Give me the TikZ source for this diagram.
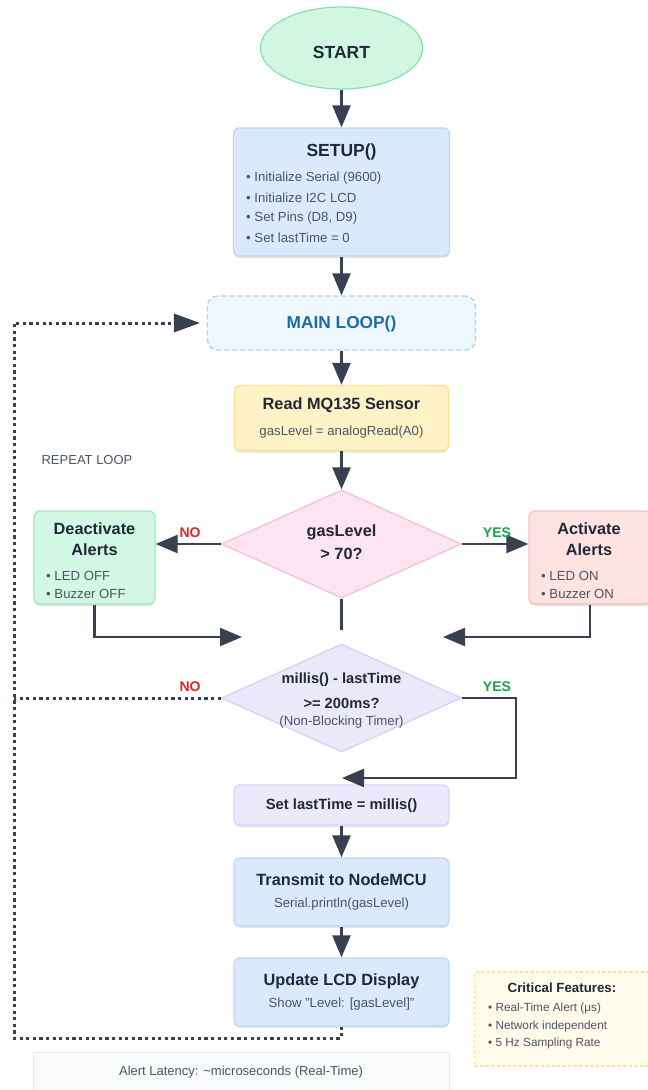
\documentclass[tikz,border=0pt]{standalone}
\usepackage{fontspec}
\setmainfont{Liberation Sans}
\usetikzlibrary{arrows.meta,shapes.geometric,shadows}
\definecolor{arrowc}{HTML}{374151}
\definecolor{tdark}{HTML}{1F2937}
\definecolor{tgray}{HTML}{4B5563}
\definecolor{startfill}{HTML}{D1F7E2}\definecolor{startdraw}{HTML}{8EE3B0}
\definecolor{setupfill}{HTML}{DBE9FD}\definecolor{setupdraw}{HTML}{BFD7F8}
\definecolor{loopfill}{HTML}{EFF7FE}\definecolor{loopdraw}{HTML}{A5D5F5}\definecolor{looptext}{HTML}{1A6DA5}
\definecolor{readfill}{HTML}{FEF2C6}\definecolor{readdraw}{HTML}{FBDF8A}
\definecolor{donefill}{HTML}{FCE5F0}\definecolor{donedraw}{HTML}{F6C0D9}
\definecolor{deactfill}{HTML}{D2F7E4}\definecolor{deactdraw}{HTML}{A0EBC2}
\definecolor{actfill}{HTML}{FEE3E1}\definecolor{actdraw}{HTML}{F8C3BE}
\definecolor{dtwofill}{HTML}{ECE8FC}\definecolor{dtwodraw}{HTML}{D8D0F7}
\definecolor{setfill}{HTML}{EDE9FD}\definecolor{setdraw}{HTML}{DCD3F9}
\definecolor{critfill}{HTML}{FEFBEA}\definecolor{critdraw}{HTML}{FBE38C}
\definecolor{latfill}{HTML}{F9FAFB}\definecolor{latdraw}{HTML}{E5E7EB}
\definecolor{nored}{HTML}{DC2626}\definecolor{yesgreen}{HTML}{16A34A}
\tikzset{
  box/.style={draw, rounded corners=6pt, line width=1.3pt, inner sep=0pt,
    drop shadow={shadow xshift=0pt, shadow yshift=-2pt, opacity=0.10, fill=black}},
  arr/.style={line width=2.4pt, draw=arrowc, -{Triangle[length=22pt,width=18pt]}},
  plainline/.style={line width=2.4pt, draw=arrowc},
  dotline/.style={line width=3pt, draw=arrowc, dash pattern=on 3.2pt off 3.4pt},
  ttl/.style={font=\bfseries\fontsize{16.3}{19}\selectfont, text=tdark, inner sep=0pt},
  sub/.style={font=\fontsize{13.2}{15}\selectfont, text=tgray, inner sep=0pt},
  bul/.style={font=\fontsize{13.2}{15}\selectfont, text=tgray, inner sep=0pt, anchor=west},
  lblno/.style={font=\bfseries\fontsize{14}{16}\selectfont, text=nored, inner sep=0pt},
  lblyes/.style={font=\bfseries\fontsize{14}{16}\selectfont, text=yesgreen, inner sep=0pt},
}
\begin{document}
\begin{tikzpicture}[x=1pt,y=-1pt]
\useasboundingbox[fill=white] (0,0) rectangle (648,1090);

% START
\node[ellipse, draw=startdraw, fill=startfill, line width=1.3pt, minimum width=162pt, minimum height=82pt, inner sep=0pt] (start) at (341.5,48) {};
\node[font=\bfseries\fontsize{17.5}{20}\selectfont, text=tdark] (starttxt) at (341.5,52) {START};

% SETUP
\node[box, fill=setupfill, draw=setupdraw, minimum width=216pt, minimum height=128pt] (setup) at (341.5,192) {};
\node[ttl, font=\bfseries\fontsize{17.5}{20}\selectfont] (setupt) at (341.5,152) {SETUP()};
\node[bul] (s1) at (246,178) {• Initialize Serial (9600)};
\node[bul] (s2) at (246,198) {• Initialize I2C LCD};
\node[bul] (s3) at (246,218) {• Set Pins (D8, D9)};
\node[bul] (s4) at (246,238) {• Set lastTime = 0};

% MAIN LOOP
\node[draw=loopdraw, fill=loopfill, dashed, dash pattern=on 5pt off 3pt, rounded corners=10pt, line width=1.3pt, minimum width=268pt, minimum height=54pt, inner sep=0pt] (loop) at (341.5,323) {};
\node[font=\bfseries\fontsize{17.3}{20}\selectfont, text=looptext, inner sep=0pt] (loopt) at (341.5,324) {MAIN LOOP()};

% READ
\node[box, fill=readfill, draw=readdraw, minimum width=214pt, minimum height=65pt] (read) at (341.5,418) {};
\node[ttl] (readt) at (341.5,405) {Read MQ135 Sensor};
\node[sub] (reads) at (341.5,432) {gasLevel = analogRead(A0)};

% Decision 1
\node[diamond, draw=donedraw, fill=donefill, line width=1.3pt, minimum width=240pt, minimum height=108pt, inner sep=0pt, aspect=2.2] (dec1) at (341.5,544) {};
\node[ttl] (dec1a) at (341.5,532) {gasLevel};
\node[ttl] (dec1b) at (341.5,554) {> 70?};

% Deactivate
\node[box, fill=deactfill, draw=deactdraw, minimum width=121pt, minimum height=93pt] (deact) at (94.5,557.5) {};
\node[ttl] (deact1) at (94.5,529) {Deactivate};
\node[ttl] (deact2) at (94.5,550) {Alerts};
\node[bul] (deb1) at (46,576) {• LED OFF};
\node[bul] (deb2) at (46,594) {• Buzzer OFF};

% Activate
\node[box, fill=actfill, draw=actdraw, minimum width=122pt, minimum height=93pt] (act) at (590,557.5) {};
\node[ttl] (act1) at (589,529) {Activate};
\node[ttl] (act2) at (589,550) {Alerts};
\node[bul] (acb1) at (541,576) {• LED ON};
\node[bul] (acb2) at (541,594) {• Buzzer ON};

% Decision 2
\node[diamond, draw=dtwodraw, fill=dtwofill, line width=1.3pt, minimum width=240pt, minimum height=108pt, inner sep=0pt, aspect=2.2] (dec2) at (341.5,698) {};
\node[ttl, font=\bfseries\fontsize{14.7}{17}\selectfont] (dec2a) at (341.5,680) {millis() - lastTime};
\node[ttl, font=\bfseries\fontsize{14.7}{17}\selectfont] (dec2b) at (341.5,703) {>= 200ms?};
\node[sub] (dec2c) at (341.5,722) {(Non-Blocking Timer)};

% Set lastTime
\node[box, fill=setfill, draw=setdraw, minimum width=215pt, minimum height=40pt] (setl) at (341.5,805) {};
\node[ttl, font=\bfseries\fontsize{14.8}{17}\selectfont] (setlt) at (341.5,806) {Set lastTime = millis()};

% Transmit
\node[box, fill=setupfill, draw=setupdraw, minimum width=215pt, minimum height=68pt] (trans) at (341.5,892) {};
\node[ttl] (transt) at (341.5,880) {Transmit to NodeMCU};
\node[sub] (transs) at (341.5,904) {Serial.println(gasLevel)};

% Update LCD
\node[box, fill=setupfill, draw=setupdraw, minimum width=215pt, minimum height=68pt] (upd) at (341.5,992) {};
\node[ttl] (updt) at (341.5,981) {Update LCD Display};
\node[sub] (upds) at (341.5,1004) {Show "Level: [gasLevel]"};

% Critical features
\node[draw=critdraw, fill=critfill, dashed, dash pattern=on 3pt off 2.5pt, line width=1.3pt, minimum width=175pt, minimum height=94pt, inner sep=0pt] (crit) at (562,1019) {};
\node[font=\bfseries\fontsize{13.3}{15}\selectfont, text=tdark, inner sep=0pt] (critt) at (562,988) {Critical Features:};
\node[bul, font=\fontsize{11.8}{13}\selectfont] (c1) at (488,1008) {• Real-Time Alert (μs)};
\node[bul, font=\fontsize{11.8}{13}\selectfont] (c2) at (488,1026) {• Network independent};
\node[bul, font=\fontsize{11.8}{13}\selectfont] (c3) at (488,1043) {• 5 Hz Sampling Rate};

% Alert latency
\node[draw=latdraw, fill=latfill, line width=1.2pt, minimum width=416pt, minimum height=44pt, inner sep=0pt, anchor=north west] (lat) at (33,1052) {};
\node[sub, font=\fontsize{13}{15}\selectfont] (latt) at (241,1072) {Alert Latency: \textasciitilde microseconds (Real-Time)};

% REPEAT LOOP label
\node[sub, font=\fontsize{13}{15}\selectfont] (rep) at (87,460) {REPEAT LOOP};

% connectors
\draw[arr] (start.south) -- (setup.north);
\draw[arr] (setup.south) -- (loop.north);
\draw[arr] (loop.south) -- (read.north);
\draw[arr] (read.south) -- (dec1.north);
\draw[arr] (dec1.west) -- (dec1.west -| deact.east);
\draw[arr] (dec1.east) -- (dec1.east -| act.west);
\node[lblno] (no1) at (190,533) {NO};
\node[lblyes] (yes1) at (497,533) {YES};

\coordinate (mid) at (341.5,630);
\draw[plainline] (dec1.south) -- (mid);
\coordinate (joinL) at (242,637);
\coordinate (joinR) at (443,637);
\draw[arr] (deact.south) |- (joinL);
\draw[arr] (act.south) |- (joinR);

% timer yes
\coordinate (yesc) at (516,698);
\coordinate (yest) at (342,778);
\draw[arr] (dec2.east) -- (yesc) |- (yest);
\node[lblno] (no2) at (190,687) {NO};
\node[lblyes] (yes2) at (497,687) {YES};

\draw[arr] (setl.south) -- (trans.north);
\draw[arr] (trans.south) -- (upd.north);

% repeat loop (dotted)
\coordinate (lb) at (341.5,1038);
\coordinate (lc) at (14,1038);
\coordinate (lt) at (14,323);
\coordinate (lm) at (14,698);
\coordinate (ltip) at ([xshift=-7pt]loop.west);
\draw[dotline] (upd.south) -- (lb) -- (lc) -- (lt) -- ([xshift=-20pt]ltip);
\fill[arrowc] (ltip) -- ++(-26,-9.5) -- ++(0,19) -- cycle;
\draw[dotline] (dec2.west) -- (lm);
\end{tikzpicture}
\end{document}
